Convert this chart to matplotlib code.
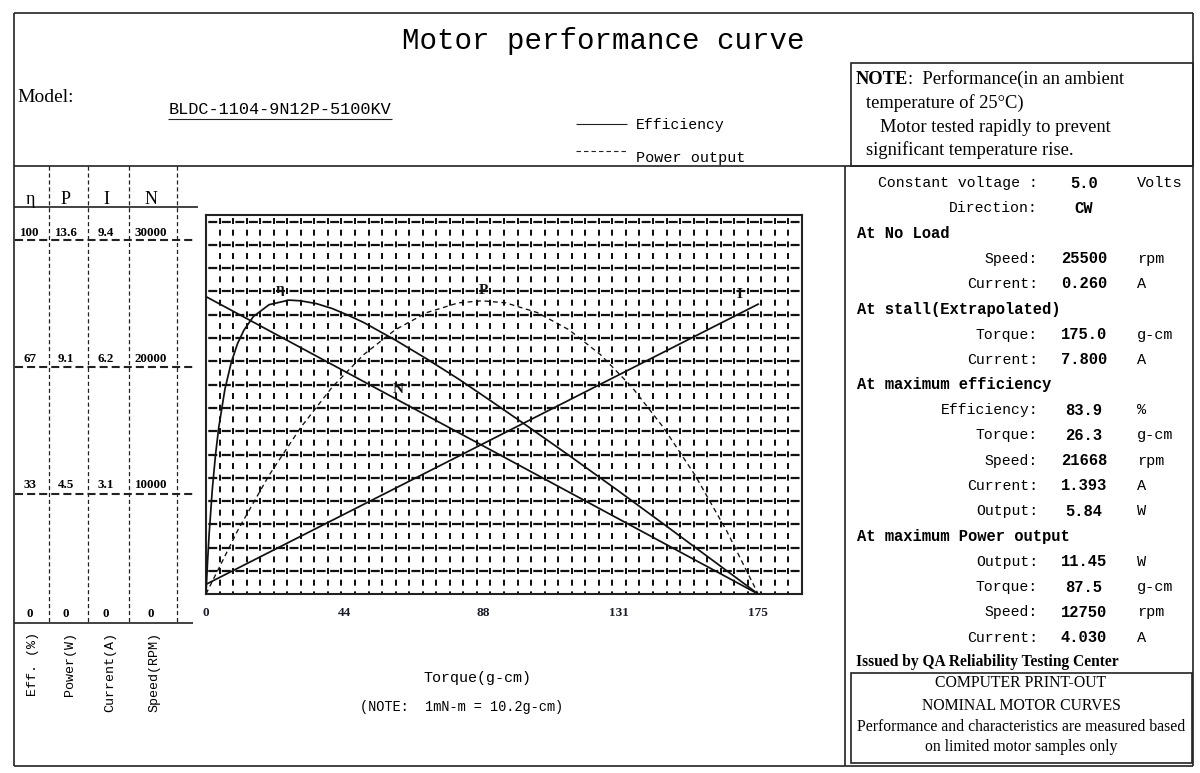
import matplotlib
matplotlib.use("Agg")
import matplotlib.pyplot as plt
from matplotlib.patches import Rectangle

plt.rcParams['lines.scale_dashes'] = False
MONO = 'Liberation Mono'
SERIF = 'Liberation Serif'

# ---- values ----
torque = [0, 175]            # g-cm
speed = [25500, 0]           # rpm
current = [0.26, 7.8]        # A

eff_torque = [0, 0.5, 1, 2, 3, 4, 6, 8, 10, 12, 15, 20, 26.3, 30, 35, 40, 45, 50,
              60, 70, 80, 90, 100, 115, 130, 145, 160, 175]
efficiency = [0, 9.3, 17.2, 29.9, 39.6, 47.3, 58.5, 66.1, 71.5, 75.3, 79.2, 82.6, 83.9, 83.7,
              82.9, 81.5, 79.6, 77.5, 72.5, 67.1, 61.4, 55.3, 49.1, 39.6, 29.9, 20.0, 10.0, 0]

pow_torque = [0, 10, 20, 30, 40, 50, 60, 70, 80, 87.5, 95, 105, 115, 125, 135, 145, 155, 165, 175]
power = [0, 2.47, 4.64, 6.50, 8.08, 9.35, 10.32, 10.99, 11.37, 11.45, 11.37, 10.99, 10.32,
         9.35, 8.08, 6.50, 4.64, 2.47, 0]

torque_ticks = [0, 44, 88, 131, 175]

scale_symbols = ['η', 'P', 'I', 'N']
eff_scale = ['100', '67', '33', '0']
power_scale = ['13.6', '9.1', '4.5', '0']
current_scale = ['9.4', '6.2', '3.1', '0']
speed_scale = ['30000', '20000', '10000', '0']
scale_names = ['Eff. (%)', 'Power(W)', 'Current(A)', 'Speed(RPM)']

spec_rows = [
    ('Constant voltage :', '5.0', 'Volts'),
    ('Direction:', 'CW', ''),
    ('At No Load', None, None),
    ('Speed:', '25500', 'rpm'),
    ('Current:', '0.260', 'A'),
    ('At stall(Extrapolated)', None, None),
    ('Torque:', '175.0', 'g-cm'),
    ('Current:', '7.800', 'A'),
    ('At maximum efficiency', None, None),
    ('Efficiency:', '83.9', '%'),
    ('Torque:', '26.3', 'g-cm'),
    ('Speed:', '21668', 'rpm'),
    ('Current:', '1.393', 'A'),
    ('Output:', '5.84', 'W'),
    ('At maximum Power output', None, None),
    ('Output:', '11.45', 'W'),
    ('Torque:', '87.5', 'g-cm'),
    ('Speed:', '12750', 'rpm'),
    ('Current:', '4.030', 'A'),
]

W, H = 1200, 773
fig = plt.figure(figsize=(W / 100, H / 100), dpi=100)

# background layer in pixel coordinates for frame and text
bg = fig.add_axes([0, 0, 1, 1])
bg.set_xlim(0, W)
bg.set_ylim(H, 0)
bg.axis('off')

LC = '#222222'


def hline(y, x0, x1, **kw):
    kw.setdefault('color', LC)
    kw.setdefault('lw', 1.2)
    bg.plot([x0, x1], [y, y], solid_capstyle='butt', **kw)


def vline(x, y0, y1, **kw):
    kw.setdefault('color', LC)
    kw.setdefault('lw', 1.2)
    bg.plot([x, x], [y0, y1], solid_capstyle='butt', **kw)


# outer frame
hline(13, 14, 1193)
hline(166, 14, 1193)
hline(766, 14, 1193)
vline(14, 13, 766)
vline(1193, 13, 766)
vline(845, 166, 766)

# note box
bg.add_patch(Rectangle((851, 63), 342, 103, fill=False, ec=LC, lw=1.2))
# bottom right box
bg.add_patch(Rectangle((851, 673), 341, 90, fill=False, ec=LC, lw=1.2))

# title and header
bg.text(603, 41, 'Motor performance curve', ha='center', va='center',
        fontfamily=MONO, fontsize=21)
bg.text(17, 97, 'Model:', ha='left', va='center', fontfamily=SERIF, fontsize=14)
bg.text(280, 110, 'BLDC-1104-9N12P-5100KV', ha='center', va='center',
        fontfamily=MONO, fontsize=12.2)
hline(118.5, 168, 392, lw=0.8)

# legend
hline(124, 576, 627, lw=0.8)
hline(151, 576, 626, lw=0.8, dashes=(3.2, 2.2))
bg.text(636, 125, 'Efficiency', ha='left', va='center', fontfamily=MONO, fontsize=10.6)
bg.text(636, 158, 'Power output', ha='left', va='center', fontfamily=MONO, fontsize=10.9)

# note text
bg.text(856, 79, 'NOTE', ha='left', va='center', fontfamily=SERIF, fontsize=13.3,
        fontweight='bold')
bg.text(908, 79, ':  Performance(in an ambient', ha='left', va='center',
        fontfamily=SERIF, fontsize=13.3)
bg.text(866, 103, 'temperature of 25°C)', ha='left', va='center', fontfamily=SERIF,
        fontsize=13.3)
bg.text(880, 127, 'Motor tested rapidly to prevent', ha='left', va='center',
        fontfamily=SERIF, fontsize=13.3)
bg.text(866, 150, 'significant temperature rise.', ha='left', va='center',
        fontfamily=SERIF, fontsize=13.3)

# ---- left scale table ----
col_x = [49, 88, 129, 177]
col_c = [30, 66, 106, 151]
for x in col_x:
    vline(x, 166, 623, lw=0.9, dashes=(3, 2))
hline(207, 14, 198, lw=1.2)
hline(623, 14, 193, lw=1.2)
for cx, sym in zip(col_c, scale_symbols):
    bg.text(cx, 200, sym, ha='center', va='center', fontfamily=SERIF, fontsize=13)

row_y = [233, 359, 485, 614]
for col, vals in enumerate([eff_scale, power_scale, current_scale, speed_scale]):
    for ry, v in zip(row_y, vals):
        bg.text(col_c[col], ry, v, ha='center', va='center', fontfamily=SERIF,
                fontsize=9.4, fontweight='bold')
for ly in [240, 367, 494]:
    hline(ly, 15, 195, lw=1.5, dashes=(5.8, 2.9))

name_x = [33, 70, 110, 154]
for nx, name in zip(name_x, scale_names):
    bg.text(nx, 632, name, rotation=90, ha='center', va='top', fontfamily=MONO,
            fontsize=9.6)

# ---- plot area ----
ax_l, ax_r, ax_t, ax_b = 206, 802, 215, 594
ax = fig.add_axes([ax_l / W, 1 - ax_b / H, (ax_r - ax_l) / W, (ax_b - ax_t) / H])
ax.set_xlim(0, 188.9)
ax.set_ylim(0, 32500)
ax.set_yticks([])
ax.set_xticks(torque_ticks)
ax.set_xticklabels([str(t) for t in torque_ticks], fontfamily=SERIF, fontsize=9.5,
                   fontweight='bold', color='#1c1c2c')
ax.tick_params(axis='x', length=0, pad=9.5)
for sp in ax.spines.values():
    sp.set_linewidth(1.5)
    sp.set_color(LC)

# grid: dense dashed lattice
ph = ax_b - ax_t
for k in range(16):
    yf = (ax_b - (221.5 + 23.3 * k)) / ph
    ax.plot([0, 1], [yf, yf], transform=ax.transAxes, color='#111111', lw=1.6,
            linestyle=(8.12, (6.48, 3.27)), zorder=1)
for k in range(1, 44):
    xf = k / 44
    ax.plot([xf, xf], [0, 1], transform=ax.transAxes, color='#111111', lw=1.45,
            linestyle=(2.4, (4.3, 4.1)), zorder=1)

# curves on their own scales
ax.plot(torque, speed, color='#111111', lw=1.25, zorder=3)

ax_i = ax.twinx()
ax_i.set_ylim(0, 10.2)
ax_i.axis('off')
ax_i.plot(torque, current, color='#111111', lw=1.25)

ax_e = ax.twinx()
ax_e.set_ylim(0, 108.2)
ax_e.axis('off')
ax_e.plot(eff_torque, efficiency, color='#111111', lw=1.25)

ax_p = ax.twinx()
ax_p.set_ylim(0, 14.8)
ax_p.axis('off')
ax_p.plot(pow_torque, power, color='#111111', lw=0.95, dashes=(3.5, 2.6))

lab = dict(fontfamily=SERIF, fontsize=11, fontweight='bold', color='#111111',
           ha='center', va='center')
ax_e.annotate('η', xy=(26.3, 83.9), xytext=(-6.5, 7.5), textcoords='offset points', **lab)
ax_p.annotate('P', xy=(87.5, 11.45), xytext=(1, 7.5), textcoords='offset points', **lab)
ax_i.annotate('I', xy=(175, 7.8), xytext=(-13.5, 7.2), textcoords='offset points', **lab)
ax.text(61, 17500, 'N', **lab)

# axis captions
bg.text(477, 678, 'Torque(g-cm)', ha='center', va='center', fontfamily=MONO, fontsize=10.8)
bg.text(462, 707, '(NOTE:  1mN-m = 10.2g-cm)', ha='center', va='center',
        fontfamily=MONO, fontsize=9.8)

# ---- right spec panel ----
for i, (label, value, unit) in enumerate(spec_rows):
    y = 183 + i * 25.25
    if value is None:
        bg.text(857, y, label, ha='left', va='center', fontfamily=MONO, fontsize=11.2,
                fontweight='bold')
        continue
    bg.text(1038, y, label, ha='right', va='center', fontfamily=MONO, fontsize=10.6)
    bg.text(1084, y, value, ha='center', va='center', fontfamily=MONO, fontsize=11.2,
            fontweight='bold')
    if unit:
        bg.text(1137, y, unit, ha='left', va='center', fontfamily=MONO, fontsize=11)

bg.text(856, 662, 'Issued by QA Reliability Testing Center', ha='left', va='center',
        fontfamily=SERIF, fontsize=11.2, fontweight='bold')
box_lines = ['COMPUTER PRINT-OUT', 'NOMINAL MOTOR CURVES',
             'Performance and characteristics are measured based',
             'on limited motor samples only']
for by, t in zip([683, 706, 727, 747], box_lines):
    bg.text(1021, by, t, ha='center', va='center', fontfamily=SERIF, fontsize=11.3)

fig.savefig('out.png', dpi=100)
